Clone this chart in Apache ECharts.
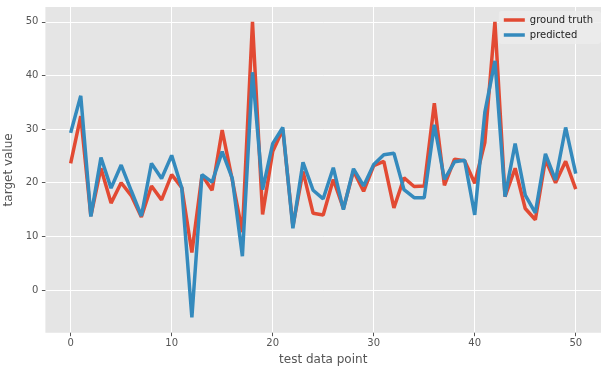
<!DOCTYPE html>
<html>
<head>
<meta charset="utf-8">
<script src="https://cdn.jsdelivr.net/npm/echarts@6/dist/echarts.min.js"></script>
<style>
html,body{margin:0;padding:0;background:#fff;}
#chart{width:609px;height:374px;}
</style>
</head>
<body>
<div id="chart"></div>
<script>
const groundTruth = [23.6, 32.4, 13.8, 22.7, 16.2, 20.0, 17.6, 13.6, 19.4, 16.8,
  21.5, 19.1, 7.0, 21.4, 18.6, 29.8, 20.5, 10.8, 50.0, 14.1,
  25.8, 29.9, 11.9, 22.1, 14.3, 14.0, 20.6, 15.2, 22.2, 18.4,
  23.2, 24.0, 15.3, 20.9, 19.3, 19.4, 34.8, 19.5, 24.4, 24.1,
  19.9, 27.5, 50.0, 17.4, 22.7, 15.2, 13.1, 24.3, 20.0, 24.0, 18.8];
const predicted = [29.3, 36.2, 13.7, 24.7, 19.0, 23.3, 18.5, 13.8, 23.6, 20.8,
  25.1, 19.0, -5.1, 21.5, 20.1, 25.8, 20.8, 6.3, 40.6, 18.7,
  27.3, 30.3, 11.5, 23.8, 18.6, 17.0, 22.8, 15.0, 22.6, 19.4,
  23.4, 25.2, 25.5, 18.7, 17.2, 17.2, 30.8, 20.6, 23.9, 24.2,
  14.0, 33.1, 42.7, 17.4, 27.3, 17.7, 14.4, 25.4, 20.5, 30.3, 21.7];
const xTicks = [0, 10, 20, 30, 40, 50];
const yTicks = [0, 10, 20, 30, 40, 50];
const seriesNames = ['ground truth', 'predicted'];

const toPairs = arr => arr.map((v, i) => [i, v]);
const FONT = 'DejaVu Sans';

const chart = echarts.init(document.getElementById('chart'), null, {renderer: 'canvas'});
chart.setOption({
  animation: false,
  backgroundColor: '#ffffff',
  grid: {left: 45.4, right: 8, top: 7, bottom: 41.3, show: true, backgroundColor: '#E5E5E5',
    borderWidth: 0, containLabel: false, outerBoundsMode: 'none'},
  legend: {
    data: seriesNames,
    orient: 'vertical',
    right: 8,
    top: 11,
    icon: 'rect',
    itemWidth: 21,
    itemHeight: 3.5,
    itemGap: 5,
    padding: [4, 8, 4, 5],
    backgroundColor: 'rgba(236,236,236,0.85)',
    borderRadius: 3,
    textStyle: {fontFamily: FONT, fontSize: 10, color: '#222', lineHeight: 10}
  },
  xAxis: {
    type: 'value',
    min: -2.5,
    max: 52.5,
    name: 'test data point',
    nameLocation: 'middle',
    nameGap: 19,
    nameTextStyle: {fontFamily: FONT, fontSize: 12, color: '#555'},
    axisLine: {show: false, onZero: false},
    axisTick: {show: true, length: 3.5, lineStyle: {color: '#555'}, customValues: xTicks},
    axisLabel: {fontFamily: FONT, fontSize: 10, color: '#555', margin: 6, customValues: xTicks},
    splitLine: {show: true, lineStyle: {color: '#ffffff', width: 1}}
  },
  yAxis: {
    type: 'value',
    min: -7.96,
    max: 52.76,
    name: 'target value',
    nameLocation: 'middle',
    nameGap: 20,
    nameTextStyle: {fontFamily: FONT, fontSize: 12, color: '#555'},
    axisLine: {show: false, onZero: false},
    axisTick: {show: true, length: 3.5, lineStyle: {color: '#555'}, customValues: yTicks},
    axisLabel: {fontFamily: FONT, fontSize: 10, color: '#555', margin: 7, customValues: yTicks},
    splitLine: {show: true, lineStyle: {color: '#ffffff', width: 1}}
  },
  series: [
    {
      name: seriesNames[0],
      type: 'line',
      data: toPairs(groundTruth),
      showSymbol: false,
      symbol: 'none',
      color: '#E24A33',
      lineStyle: {width: 3.5, color: '#E24A33'},
      z: 2
    },
    {
      name: seriesNames[1],
      type: 'line',
      data: toPairs(predicted),
      showSymbol: false,
      symbol: 'none',
      color: '#348ABD',
      lineStyle: {width: 3.5, color: '#348ABD'},
      z: 3
    }
  ]
});
</script>
</body>
</html>
